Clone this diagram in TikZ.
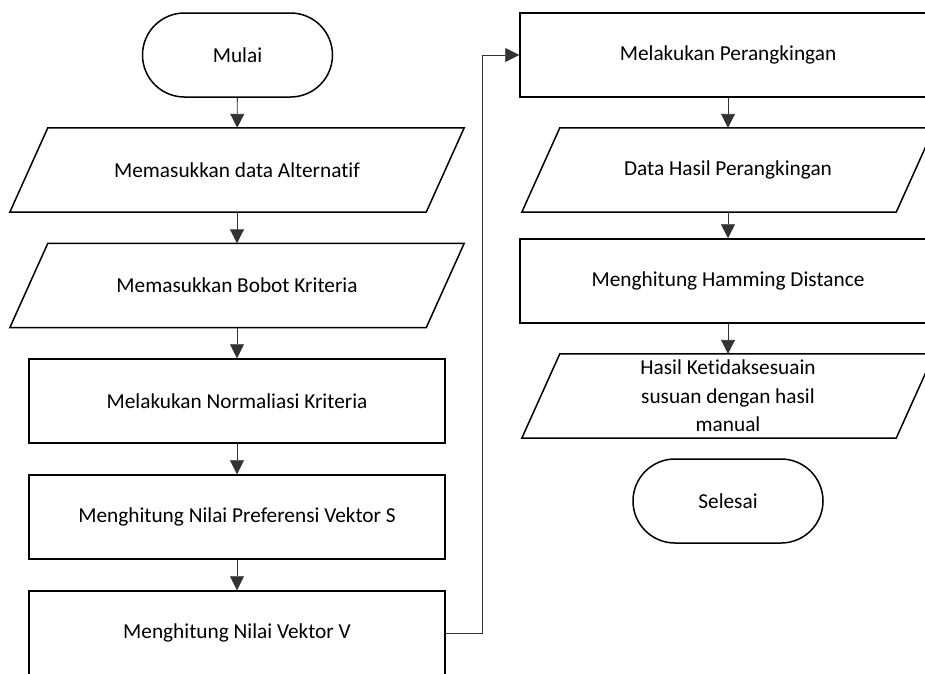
\documentclass[tikz,border=0pt]{standalone}
\usepackage{fontspec}
\setmainfont{Carlito}[RawFeature=-liga]
\usetikzlibrary{arrows.meta}

% parallelogram outline around a (text-only) node: #1 node name, #2 half slant
\newcommand\slantbox[2]{%
  \draw[outline] ([xshift=#2]#1.north west) -- ([xshift=#2]#1.north east)
    -- ([xshift=-#2]#1.south east) -- ([xshift=-#2]#1.south west) -- cycle;}

\begin{document}
\begin{tikzpicture}[x=1pt, y=-1pt,
  outline/.style={draw=black, line width=1.5pt, line join=miter},
  txt/.style={font=\fontsize{21.3}{28.5}\selectfont, text=black, align=center, inner sep=0pt},
  proc/.style={txt, rectangle, outline, minimum width=416pt, minimum height=84pt},
  term/.style={txt, rectangle, outline, rounded corners=42pt, minimum width=190pt, minimum height=84pt},
  io/.style={txt, rectangle, minimum height=84pt},
  flow/.style={draw=black!80, line width=0.9pt, -{Triangle[length=14pt, width=14pt]}}]

\useasboundingbox (0,0) rectangle (925,673);
\clip (0,0) rectangle (925,673);
\fill[white] (0,0) rectangle (925,673);

% left column
\node[term] (start) at (237.5,55) {Mulai};
\node[io, minimum width=416pt] (alt) at (237,170) {Memasukkan data Alternatif};
\slantbox{alt}{19pt}
\node[io, minimum width=416pt] (bobot) at (237,285.5) {Memasukkan Bobot Kriteria};
\slantbox{bobot}{19pt}
\node[proc] (norm) at (237,401) {Melakukan Normaliasi Kriteria};
\node[proc] (pref) at (237,517) {Menghitung Nilai Preferensi Vektor S};
\node[proc] (vek) at (237,633) {Menghitung Nilai Vektor V};

% right column
\node[proc] (rank) at (728,55) {Melakukan Perangkingan};
\node[io, minimum width=374pt] (hasil) at (728,170) {Data Hasil Perangkingan};
\slantbox{hasil}{19pt}
\node[proc] (ham) at (728,281) {Menghitung Hamming Distance};
\node[io, minimum width=374pt] (beda) at (728,396)
  {Hasil Ketidaksesuain\\susuan dengan hasil\\manual};
\slantbox{beda}{19pt}
\node[term] (stop) at (728,501) {Selesai};

% connectors
\draw[flow] (start) -- (alt);
\draw[flow] (alt) -- (bobot);
\draw[flow] (bobot) -- (norm);
\draw[flow] (norm) -- (pref);
\draw[flow] (pref) -- (vek);
\draw[flow] (vek.east) -- ([xshift=37pt]vek.east) |- (rank.west);
\draw[flow] (rank) -- (hasil);
\draw[flow] (hasil) -- (ham);
\draw[flow] (ham) -- (beda);
\end{tikzpicture}
\end{document}
